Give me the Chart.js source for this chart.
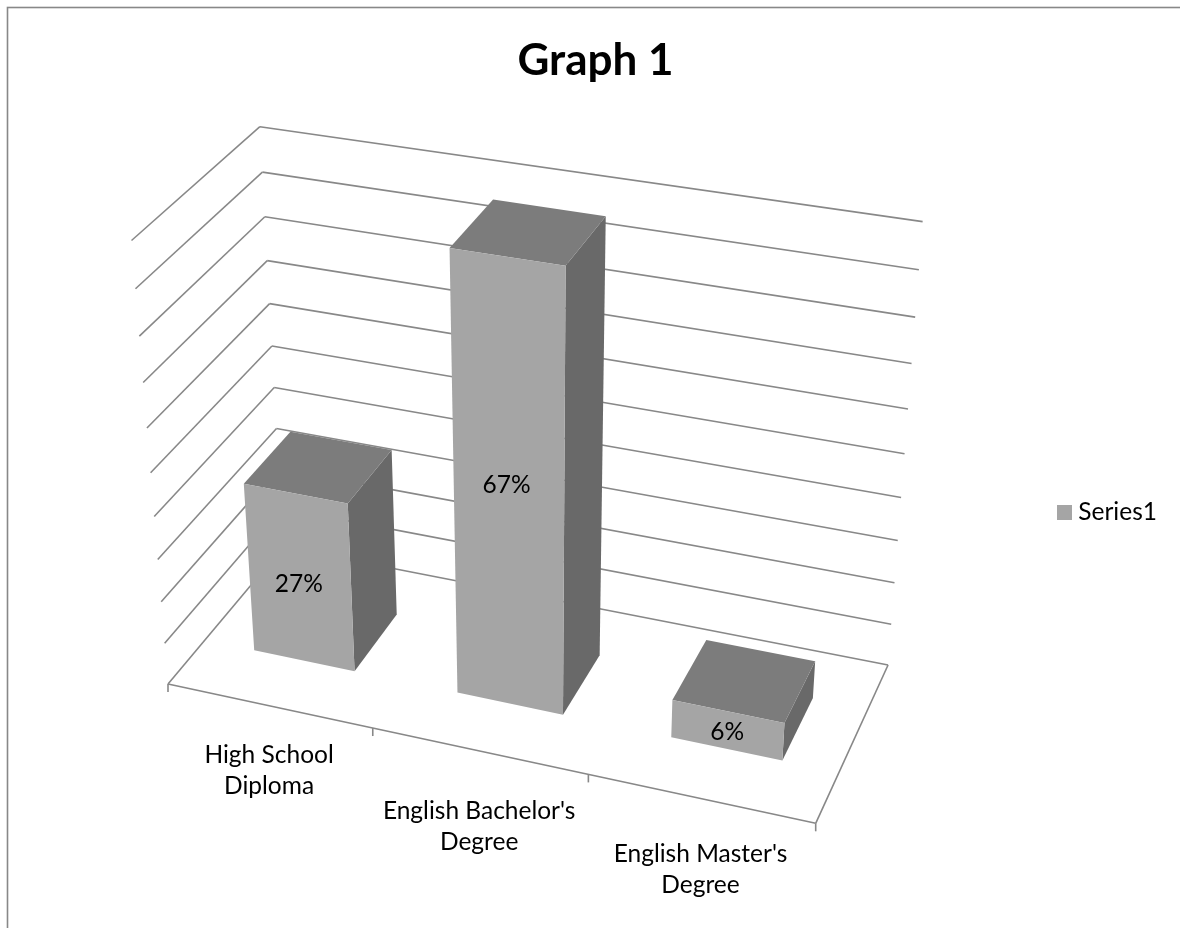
<!DOCTYPE html>
<html>
<head>
<meta charset="utf-8">
<title>Graph 1</title>
<script src="https://cdn.jsdelivr.net/npm/chart.js@4/dist/chart.umd.min.js"></script>
<style>
  html, body { margin: 0; padding: 0; background: #fff; overflow: hidden; }
  canvas { display: block; }
</style>
</head>
<body>
<canvas id="graph" width="1180" height="928"></canvas>
<script>
const categories = [["High School", "Diploma"], ["English Bachelor's", "Degree"], ["English Master's", "Degree"]];
const shares = [27, 67, 6];
const seriesName = "Series1";
const axisMax = 67.2;
const gridStep = 6.72;

/* Colours of the three visible prism faces */
const FACE = { front: "#a5a5a5", top: "#7c7c7c", side: "#696969" };
const GRID = "#888888";
const FONT = "Lato, 'Open Sans', sans-serif";

/* Projective camera: box corners on screen plus the homogeneous weight of each axis */
const CAM = {
  origin: [168, 684],      // front left, floor
  uEnd:   [815.7, 823.3],  // front right, floor
  vEnd:   [131.5, 240.5],  // front left, top
  wEnd:   [283, 547],      // back left, floor
  ku: 0.9246, kv: 0.91, kw: 1.0795,
};
const BAR_DEPTH = [0.305, 0.705];
const LABEL_DROP = [49, 60, 56];
const VALUE_NUDGE = [[-1, 5], [-2, -6], [0, 2]];

function project(u, v, w) {
  const { origin: o, uEnd, vEnd, wEnd, ku, kv, kw } = CAM;
  const d = 1 + u * (ku - 1) + v * (kv - 1) + w * (kw - 1);
  const at = i => (o[i]
    + u * (ku * uEnd[i] - o[i])
    + v * (kv * vEnd[i] - o[i])
    + w * (kw * wEnd[i] - o[i])) / d;
  return [at(0), at(1)];
}

function line(ctx, a, b) {
  ctx.beginPath();
  ctx.moveTo(a[0], a[1]);
  ctx.lineTo(b[0], b[1]);
  ctx.stroke();
}

function face(ctx, pts, color) {
  ctx.beginPath();
  pts.forEach((p, i) => i ? ctx.lineTo(p[0], p[1]) : ctx.moveTo(p[0], p[1]));
  ctx.closePath();
  ctx.fillStyle = color;
  ctx.fill();
}

/* Legend swatch as an image, so the gap to the text can stay narrow */
const swatch = document.createElement("canvas");
swatch.width = swatch.height = 15;
const swatchCtx = swatch.getContext("2d");
swatchCtx.fillStyle = FACE.front;
swatchCtx.fillRect(0, 0, 15, 15);

/* Replaces the flat drawing: scales stay the source of every position,
   their pixels are normalised and pushed through the camera */
const box3d = {
  id: "box3d",
  beforeDatasetsDraw(chart) {
    const { ctx, chartArea: area, scales: { x, y } } = chart;
    const toU = px => (px - area.left) / (area.right - area.left);
    const toV = px => (area.bottom - px) / (area.bottom - area.top);

    ctx.save();
    ctx.strokeStyle = GRID;
    ctx.lineWidth = 1.6;

    /* walls */
    y.ticks.forEach(t => {
      const v = toV(y.getPixelForValue(t.value));
      line(ctx, project(0, v, 0), project(0, v, 1));
      line(ctx, project(0, v, 1), project(1, v, 1));
    });

    /* floor edges and ticks */
    line(ctx, project(0, 0, 0), project(1, 0, 0));
    line(ctx, project(1, 0, 0), project(1, 0, 1));
    for (let i = 0; i <= categories.length; i++) {
      const p = project(i / categories.length, 0, 0);
      line(ctx, p, [p[0], p[1] + 8]);
    }

    /* bars */
    const [wf, wb] = BAR_DEPTH;
    const bars = chart.getDatasetMeta(0).data;
    bars.forEach(bar => {
      const u0 = toU(bar.x - bar.width / 2), u1 = toU(bar.x + bar.width / 2);
      const v0 = toV(bar.base), v1 = toV(bar.y);
      face(ctx, [project(u1, v0, wf), project(u1, v0, wb), project(u1, v1, wb), project(u1, v1, wf)], FACE.side);
      face(ctx, [project(u0, v1, wf), project(u1, v1, wf), project(u1, v1, wb), project(u0, v1, wb)], FACE.top);
      face(ctx, [project(u0, v0, wf), project(u1, v0, wf), project(u1, v1, wf), project(u0, v1, wf)], FACE.front);
    });

    /* value labels on the front faces */
    ctx.fillStyle = "#000";
    ctx.font = "24.5px " + FONT;
    ctx.textAlign = "center";
    ctx.textBaseline = "middle";
    bars.forEach((bar, i) => {
      const p = project(toU(bar.x), (toV(bar.base) + toV(bar.y)) / 2, wf);
      ctx.fillText(shares[i] + "%", p[0] + VALUE_NUDGE[i][0], p[1] + VALUE_NUDGE[i][1]);
    });

    /* category labels under the front edge */
    x.getLabels().forEach((lines, i) => {
      const p = project(toU(x.getPixelForValue(i)), 0, 0);
      lines.forEach((txt, j) => ctx.fillText(txt, p[0], p[1] + LABEL_DROP[i] + j * 31));
    });

    ctx.restore();
    return false;
  },
};

/* Chart frame: only its top and left edges fall inside the canvas */
const frame = {
  id: "frame",
  beforeDraw(chart) {
    const { ctx } = chart;
    ctx.save();
    ctx.strokeStyle = GRID;
    ctx.lineWidth = 1.6;
    ctx.strokeRect(7.5, 7.5, 1300, 1000);
    ctx.restore();
  },
};

new Chart(document.getElementById("graph"), {
  type: "bar",
  data: {
    labels: categories,
    datasets: [{
      label: seriesName,
      data: shares,
      backgroundColor: FACE.front,
      barPercentage: 0.5,
      categoryPercentage: 1,
    }],
  },
  options: {
    responsive: false,
    animation: false,
    layout: { padding: { left: 24, right: 13, top: 21, bottom: 10 } },
    scales: {
      x: { display: false },
      y: {
        display: false,
        min: 0,
        max: axisMax,
        ticks: { stepSize: gridStep },
      },
    },
    plugins: {
      title: {
        display: true,
        text: "Graph 1",
        color: "#000",
        font: { family: FONT, size: 44, weight: "bold" },
        padding: { top: 13, bottom: 20 },
      },
      legend: {
        position: "right",
        fullSize: false,
        labels: {
          color: "#000",
          font: { family: FONT, size: 24.5 },
          usePointStyle: true,
          pointStyle: swatch,
          pointStyleWidth: 3,
          boxHeight: 15,
          padding: 10,
        },
      },
      tooltip: { enabled: false },
    },
  },
  plugins: [frame, box3d],
});
</script>
</body>
</html>
